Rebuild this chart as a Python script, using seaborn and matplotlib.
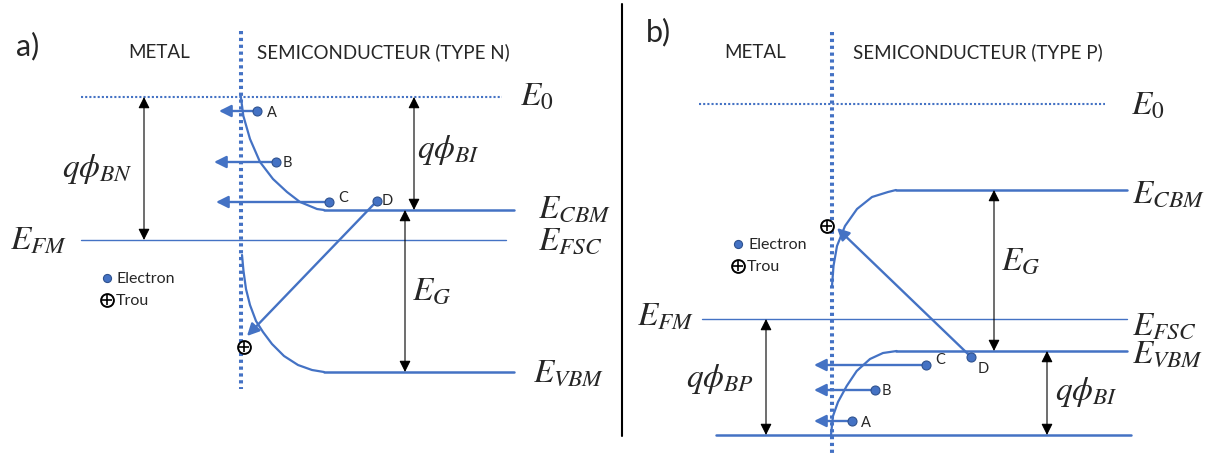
import matplotlib
matplotlib.use("Agg")
import matplotlib.pyplot as plt
import seaborn as sns

sns.set_theme(style="white")
plt.rcParams["font.family"] = ["Lato", "DejaVu Sans"]
plt.rcParams["mathtext.fontset"] = "stix"

BLUE = "#4472C4"
DARK = "#2F528F"

# ------------------------------------------
# Data (picture units, y grows downwards)
# ------------------------------------------
# a) metal / type N semiconductor
n_e0 = 98
n_ecbm = 211
n_ef = 241
n_evbm = 373
n_cbm_curve_x = [240.7, 243.3, 250, 260, 273, 287, 300, 317, 324]
n_cbm_curve_y = [96.7, 116.7, 140, 163, 180, 193, 203, 210, 211]
n_vbm_curve_x = [242, 243.5, 246, 250, 256, 263, 272, 284, 298, 312, 324]
n_vbm_curve_y = [256, 272, 290, 306, 322, 333, 345, 357, 366, 371, 373]
n_elec_names = ["A", "B", "C", "D"]
n_elec_x = [257, 276, 329, 377]
n_elec_y = [112, 163, 203, 202]
n_hole_x = [244]
n_hole_y = [348]

# b) metal / type P semiconductor
p_e0 = 105
p_ecbm = 191
p_ef = 320
p_evbm = 352
p_bottom = 436
p_cbm_curve_x = [832, 833.5, 837, 845, 857, 872, 888, 896]
p_cbm_curve_y = [287, 267, 247, 227, 210, 198, 193, 191]
p_vbm_curve_x = [831, 833, 838, 846.7, 856.7, 870, 883, 896.7]
p_vbm_curve_y = [436, 417, 403, 387, 372, 360, 354, 352]
p_elec_names = ["A", "B", "C", "D"]
p_elec_x = [852, 875, 926, 971]
p_elec_y = [422, 391, 366, 358]
p_hole_x = [827]
p_hole_y = [227]

# ------------------------------------------
# Figure
# ------------------------------------------
fig = plt.figure(figsize=(12.09, 4.56), dpi=100)
ax = fig.add_axes([0, 0, 1, 1])
ax.set_xlim(0, 1209)
ax.set_ylim(456, 0)
ax.axis("off")


def seg(x, y, **kw):
    sns.lineplot(x=x, y=y, ax=ax, estimator=None, sort=False, **kw)


def level(x0, x1, y, lw=1.8, **kw):
    seg([x0, x1], [y, y], color=BLUE, linewidth=lw, **kw)


def blue_arrow(x0, y0, x1, y1):
    ax.annotate("", xy=(x1, y1), xytext=(x0, y0),
                arrowprops=dict(arrowstyle="-|>", color=BLUE, lw=1.7,
                                mutation_scale=18, shrinkA=0, shrinkB=0),
                zorder=4)


def black_arrow(x, y0, y1):
    ax.annotate("", xy=(x, y1), xytext=(x, y0),
                arrowprops=dict(arrowstyle="<|-|>", color="black", lw=0.8,
                                mutation_scale=17, shrinkA=0, shrinkB=0))


def math(x, y, s):
    ax.text(x, y, s, fontsize=24, va="baseline", ha="left")


def holes(x, y):
    sns.scatterplot(x=x, y=y, ax=ax, marker="o", s=85, facecolor="white",
                    edgecolor="black", linewidth=1.4, zorder=6)
    sns.scatterplot(x=x, y=y, ax=ax, marker="+", s=60, color="black",
                    linewidth=1.2, zorder=7)


def electrons(x, y, s=42):
    sns.scatterplot(x=x, y=y, ax=ax, s=s, color=BLUE, edgecolor=DARK,
                    linewidth=0.8, zorder=6)


# ---------------- panel a ----------------
ax.text(16, 46, "a)", fontsize=22, va="center", ha="left")
ax.text(159, 52, "METAL", fontsize=13.5, va="center", ha="center")
ax.text(383, 52, "SEMICONDUCTEUR (TYPE N)", fontsize=13.5, va="center", ha="center")

seg([241, 241], [32, 390], color=BLUE, linewidth=2.9, linestyle=(0, (0.8, 0.9)))
level(81, 502, n_e0, lw=1.5, linestyle=(0, (1, 1)))
level(324, 514, n_ecbm)
level(81, 506, n_ef, lw=1.0)
level(324, 514, n_evbm)
seg(n_cbm_curve_x, n_cbm_curve_y, color=BLUE, linewidth=1.6)
seg(n_vbm_curve_x, n_vbm_curve_y, color=BLUE, linewidth=1.6)

black_arrow(144, n_e0, n_ef)
black_arrow(414, n_e0, n_ecbm)
black_arrow(405, n_ecbm, n_evbm)

for xe, ye, tip in zip(n_elec_x[:3], n_elec_y[:3], [219, 214, 216]):
    blue_arrow(xe, ye, tip, ye)
blue_arrow(n_elec_x[3] - 2, n_elec_y[3] + 2, n_hole_x[0] + 3, n_hole_y[0] - 11)
electrons(n_elec_x, n_elec_y)
holes(n_hole_x, n_hole_y)
for name, xe, ye in zip(n_elec_names, n_elec_x, n_elec_y):
    dx, dy = {"A": (10, 1), "B": (7, 0), "C": (9, -5), "D": (5, -1)}[name]
    ax.text(xe + dx, ye + dy, name, fontsize=10.5, va="center", ha="left")

math(520, 106, r"$E_0$")
math(538, 218, r"$E_{CBM}$")
math(538, 250, r"$E_{FSC}$")
math(533, 382, r"$E_{VBM}$")
math(10, 250, r"$E_{FM}$")
math(62, 177, r"$q\phi_{BN}$")
math(417, 158, r"$q\phi_{BI}$")
math(412, 300, r"$E_G$")

electrons([107], [279], s=34)
ax.text(117, 279, "Electron", fontsize=11.5, va="center", ha="left")
holes([107], [301])
ax.text(116, 301, "Trou", fontsize=11.5, va="center", ha="left")

# ---------------- separator ----------------
seg([622, 622], [5, 437], color="black", linewidth=1.5)

# ---------------- panel b ----------------
ax.text(646, 32, "b)", fontsize=22, va="center", ha="left")
ax.text(755, 52, "METAL", fontsize=13.5, va="center", ha="center")
ax.text(978, 52, "SEMICONDUCTEUR (TYPE P)", fontsize=13.5, va="center", ha="center")

seg([832, 832], [33, 456], color=BLUE, linewidth=2.9, linestyle=(0, (0.8, 0.9)))
level(699, 1105, p_e0, lw=1.5, linestyle=(0, (1, 1)))
level(896, 1127, p_ecbm)
level(702, 1127, p_ef, lw=1.0)
level(896, 1127, p_evbm)
level(716, 1131, p_bottom)
seg(p_cbm_curve_x, p_cbm_curve_y, color=BLUE, linewidth=1.6)
seg(p_vbm_curve_x, p_vbm_curve_y, color=BLUE, linewidth=1.6)

black_arrow(766, p_ef, p_bottom)
black_arrow(994, p_ecbm, p_evbm)
black_arrow(1047, p_evbm, p_bottom)

for xe, ye in zip(p_elec_x[:3], p_elec_y[:3]):
    blue_arrow(xe, ye, 814, ye)
blue_arrow(p_elec_x[3] - 3, p_elec_y[3] - 3, p_hole_x[0] + 10, p_hole_y[0] + 2)
electrons(p_elec_x, p_elec_y)
holes(p_hole_x, p_hole_y)
for name, xe, ye in zip(p_elec_names, p_elec_x, p_elec_y):
    dx, dy = {"A": (9, 1), "B": (7, 0), "C": (9, -6), "D": (7, 11)}[name]
    ax.text(xe + dx, ye + dy, name, fontsize=10.5, va="center", ha="left")

math(1131, 115, r"$E_0$")
math(1132, 203, r"$E_{CBM}$")
math(1132, 335, r"$E_{FSC}$")
math(1132, 363, r"$E_{VBM}$")
math(637, 326, r"$E_{FM}$")
math(686, 387, r"$q\phi_{BP}$")
math(1055, 400, r"$q\phi_{BI}$")
math(1001, 270, r"$E_G$")

electrons([738], [245], s=34)
ax.text(749, 245, "Electron", fontsize=11.5, va="center", ha="left")
holes([738], [267])
ax.text(747, 267, "Trou", fontsize=11.5, va="center", ha="left")

fig.savefig("out.png", dpi=100)
